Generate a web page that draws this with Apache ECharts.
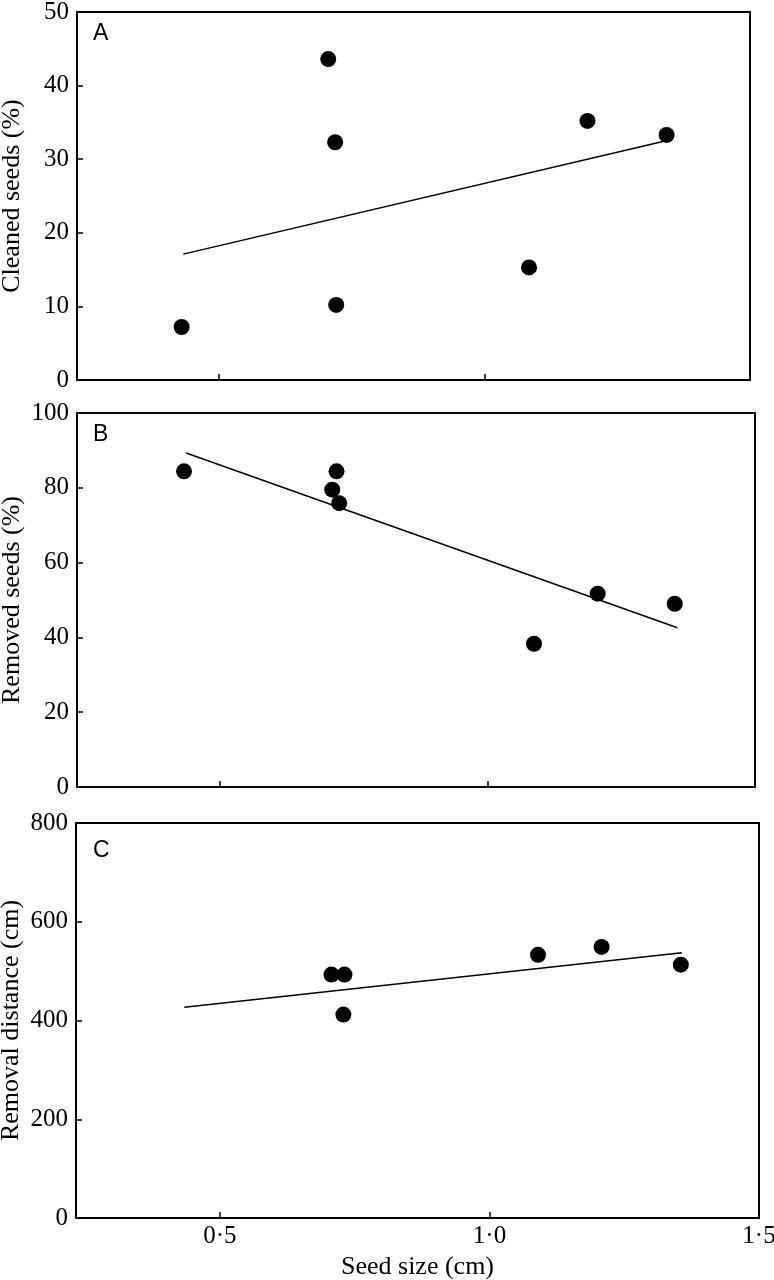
<!DOCTYPE html>
<html>
<head>
<meta charset="utf-8">
<script src="https://cdn.jsdelivr.net/npm/echarts@6/dist/echarts.min.js"></script>
<style>
  html, body { margin: 0; padding: 0; background: #fff; }
  #chart { width: 774px; height: 1280px; }
</style>
</head>
<body>
<div id="chart"></div>
<script>
// ---- Data ----
const xTickValues = [0.5, 1.0, 1.5];

// Panel A: cleaned seeds (%)
const seedSizeA = [0.430, 0.706, 0.719, 0.721, 1.084, 1.194, 1.343];
const cleanedSeeds = [7.2, 43.6, 32.3, 10.2, 15.3, 35.2, 33.3];
const fitA = [[0.433, 17.1], [1.336, 32.4]];

// Panel B: removed seeds (%)
const seedSizeB = [0.433, 0.718, 0.710, 0.723, 1.087, 1.206, 1.350];
const removedSeeds = [84.4, 84.4, 79.5, 75.9, 38.3, 51.7, 49.0];
const fitB = [[0.437, 89.3], [1.355, 42.6]];

// Panel C: removal distance (cm)
const seedSizeC = [0.707, 0.731, 0.729, 1.090, 1.208, 1.355];
const removalDistance = [493, 493, 412, 533, 549, 513];
const fitC = [[0.434, 427], [1.357, 537]];

const yTicksA = { min: 0, max: 50, interval: 10 };
const yTicksB = { min: 0, max: 100, interval: 20 };
const yTicksC = { min: 0, max: 800, interval: 200 };

const panelLetters = ['A', 'B', 'C'];
const yNames = ['Cleaned seeds (%)', 'Removed seeds (%)', 'Removal distance (cm)'];
const xName = 'Seed size (cm)';

// ---- Chart ----
const serif = 'Liberation Serif, Times New Roman, serif';
const sans = 'Liberation Sans, Arial, sans-serif';

const grids = [
  { left: 77, top: 12, width: 673, height: 368 },
  { left: 77, top: 413, width: 678, height: 374 },
  { left: 76, top: 823, width: 683, height: 395 }
];

function pairs(xs, ys) { return xs.map((x, i) => [x, ys[i]]); }

function xAxis(i, showLabels) {
  return {
    type: 'value', gridIndex: i, min: 0.233, max: 1.5,
    name: showLabels ? xName : '',
    nameLocation: 'middle', nameGap: 36, nameMoveOverlap: false,
    nameTextStyle: { fontFamily: serif, fontSize: 26, color: '#000' },
    axisLine: { show: true, lineStyle: { color: '#000', width: 2 } },
    axisTick: { show: true, inside: true, length: 6, customValues: xTickValues, lineStyle: { color: '#000', width: 1.5 } },
    axisLabel: {
      show: showLabels, customValues: xTickValues, margin: 6,
      fontFamily: serif, fontSize: 25, color: '#000',
      formatter: v => v.toFixed(1).replace('.', '\u00B7')
    },
    splitLine: { show: false }
  };
}

function yAxis(i, t, name) {
  return {
    type: 'value', gridIndex: i, min: t.min, max: t.max, interval: t.interval,
    name: name, nameLocation: 'middle', nameGap: 52, nameMoveOverlap: false,
    nameTextStyle: { fontFamily: serif, fontSize: 26, color: '#000' },
    axisLine: { show: true, lineStyle: { color: '#000', width: 2 } },
    axisTick: { show: true, inside: true, length: 6, lineStyle: { color: '#000', width: 1.5 } },
    axisLabel: { margin: 8, fontFamily: serif, fontSize: 25, color: '#000' },
    splitLine: { show: false }
  };
}

function fitSeries(i, d) {
  return {
    type: 'line', xAxisIndex: i, yAxisIndex: i, data: d,
    symbol: 'none', silent: true, z: 2,
    lineStyle: { color: '#000', width: 1.5 }
  };
}
function scatterSeries(i, d) {
  return {
    type: 'scatter', xAxisIndex: i, yAxisIndex: i, data: d,
    symbol: 'circle', symbolSize: 16, z: 3,
    itemStyle: { color: '#000', opacity: 1 }
  };
}

const option = {
  animation: false,
  backgroundColor: '#fff',
  grid: grids.map(g => Object.assign({
    show: true, borderColor: '#000', borderWidth: 2, backgroundColor: 'transparent',
    containLabel: false, outerBoundsMode: 'none'
  }, g)),
  xAxis: [xAxis(0, false), xAxis(1, false), xAxis(2, true)],
  yAxis: [yAxis(0, yTicksA, yNames[0]), yAxis(1, yTicksB, yNames[1]), yAxis(2, yTicksC, yNames[2])],
  series: [
    fitSeries(0, fitA), scatterSeries(0, pairs(seedSizeA, cleanedSeeds)),
    fitSeries(1, fitB), scatterSeries(1, pairs(seedSizeB, removedSeeds)),
    fitSeries(2, fitC), scatterSeries(2, pairs(seedSizeC, removalDistance))
  ],
  graphic: panelLetters.map((t, i) => ({
    type: 'text', left: 93, top: [22, 423, 839][i],
    style: { text: t, font: '23px ' + sans, fill: '#000' }
  }))
};

const chart = echarts.init(document.getElementById('chart'));
chart.setOption(option);
</script>
</body>
</html>
